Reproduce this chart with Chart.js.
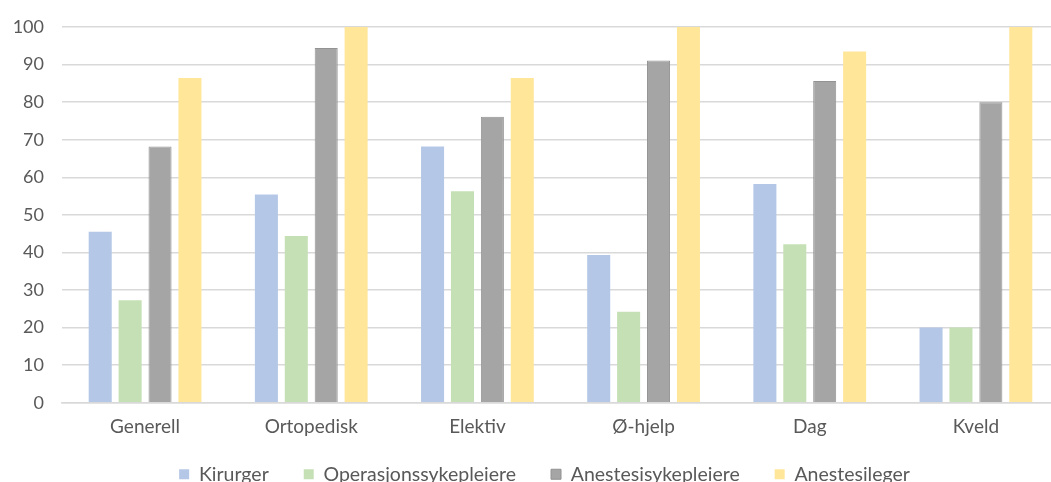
<!DOCTYPE html>
<html>
<head>
<meta charset="utf-8">
<script src="https://cdn.jsdelivr.net/npm/chart.js@4/dist/chart.umd.min.js"></script>
<style>
    html, body { margin: 0; padding: 0; background: #ffffff; }
    #ramme { width: 1051px; height: 482px; overflow: hidden; position: relative; }
    #ramme canvas { position: absolute; left: 0; top: 0; }
</style>
</head>
<body>
<div id="ramme">
    <canvas id="grafico" width="1060" height="515"></canvas>
</div>
<script>
// Kategorier langs x-aksen
const kategorier = ["Generell", "Ortopedisk", "Elektiv", "Ø-hjelp", "Dag", "Kveld"];

// Andel (%) per yrkesgruppe
const kirurger = [45.5, 55.4, 68.2, 39.3, 58.2, 20];
const operasjonssykepleiere = [27.3, 44.4, 56.3, 24.2, 42.2, 20];
const anestesisykepleiere = [68.2, 94.4, 76.1, 91.1, 85.6, 80];
const anestesileger = [86.4, 100, 86.4, 100, 93.5, 100];

// y-akse: 0 til 100 i steg på 10
const yMin = 0;
const yMaks = 100;
const ySteg = 10;

const skrift = "Lato, 'Open Sans', sans-serif";
const tekstFarge = '#595959';
const rutenett = '#d9d9d9';

// legenden trekkes opp mot aksen og litt mot høyre
const flyttLegende = {
    id: 'flyttLegende',
    afterLayout(chart) {
        const l = chart.legend;
        l.top -= 21;
        l.bottom -= 21;
        l.left += 15;
        l.right += 15;
    }
};

const ctx = document.getElementById('grafico');
const grafico = new Chart(ctx, {
    type: 'bar',
    data: {
        labels: kategorier,
        datasets: [{
            label: 'Kirurger',
            data: kirurger,
            backgroundColor: '#b4c7e7',
            borderWidth: 0
        }, {
            label: 'Operasjonssykepleiere',
            data: operasjonssykepleiere,
            backgroundColor: '#c5e0b4',
            borderWidth: 0
        }, {
            label: 'Anestesisykepleiere',
            data: anestesisykepleiere,
            backgroundColor: '#a5a5a5',
            borderColor: '#939393',
            borderWidth: 1
        }, {
            label: 'Anestesileger',
            data: anestesileger,
            backgroundColor: '#ffe699',
            borderWidth: 0
        }]
    },
    options: {
        responsive: false,
        animation: false,
        categoryPercentage: 0.72,
        barPercentage: 0.77,
        layout: {
            padding: { top: 0, left: 0, right: 1, bottom: 0 }
        },
        plugins: {
            legend: {
                position: 'bottom',
                labels: {
                    boxWidth: 10,
                    boxHeight: 10,
                    padding: 35,
                    color: tekstFarge,
                    font: { family: skrift, size: 19.5 }
                }
            },
            tooltip: { enabled: false }
        },
        scales: {
            x: {
                grid: { display: false, drawTicks: false },
                border: { color: rutenett, width: 1.5 },
                ticks: {
                    padding: 12.5,
                    color: tekstFarge,
                    font: { family: skrift, size: 19 }
                }
            },
            y: {
                min: yMin,
                max: yMaks,
                grid: { color: rutenett, lineWidth: 1.5, drawTicks: false },
                border: { display: false },
                ticks: {
                    stepSize: ySteg,
                    padding: 18,
                    color: tekstFarge,
                    font: { family: skrift, size: 18, lineHeight: 1 }
                },
                afterFit: (s) => { s.width = 62; }
            }
        }
    },
    plugins: [flyttLegende]
});
</script>
</body>
</html>
